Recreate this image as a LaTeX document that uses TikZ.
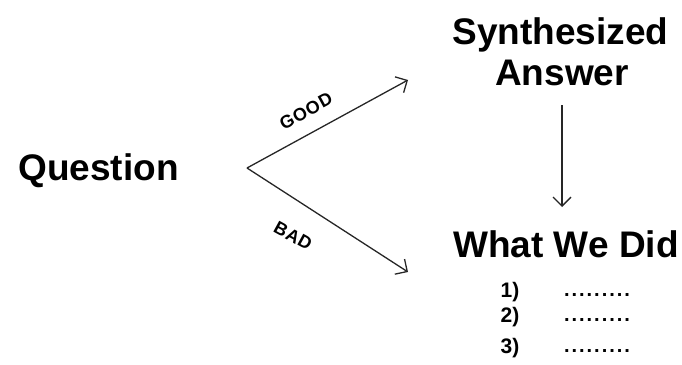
\documentclass[tikz,border=0pt]{standalone}
\usepackage{fontspec}
\setmainfont{Liberation Sans}
\newfontfamily\labfont[LetterSpace=4]{Liberation Sans}
\newfontfamily\dotfont[LetterSpace=10]{Liberation Sans}
\usetikzlibrary{arrows.meta}
\begin{document}
\begin{tikzpicture}[x=1pt,y=-1pt,
  big/.style={font=\fontsize{37}{42}\selectfont\bfseries, inner sep=0pt, anchor=base},
  lab/.style={font=\labfont\fontsize{18}{20}\selectfont\bfseries, inner sep=0pt},
  item/.style={font=\fontsize{21}{24}\selectfont\bfseries, inner sep=0pt, anchor=base},
  dots/.style={font=\dotfont\fontsize{20}{24}\selectfont\bfseries, inner sep=0pt, anchor=base},
  arr/.style={draw=black!85, line width=1.3pt, -{Straight Barb[length=9pt,width=18pt,line width=1.3pt]}}]
\useasboundingbox (0,0) rectangle (682,364);
\node[big] (q) at (98.5,180) {Question};
\node[big] (syn) at (560.5,44) {Synthesized};
\node[big] (ans) at (562,85) {Answer};
\node[big] (wwd) at (566,257) {What We Did};
\node[item] (n1) at (510,297) {1)};
\node[item] (n2) at (510,322) {2)};
\node[item] (n3) at (510,353) {3)};
\node[dots] (d1) at (597,296) {.........};
\node[dots] (d2) at (597,321) {.........};
\node[dots] (d3) at (597,352) {.........};
\coordinate (fork) at (247,168);
\coordinate (gend) at (408,80);
\coordinate (bend) at (408,272);
\coordinate (dtop) at (562,105);
\coordinate (dbot) at (562,207);
\draw[arr] (fork) -- (gend);
\draw[arr] (fork) -- (bend);
\draw[arr] (dtop) -- (dbot);
\node[lab, rotate=28.7] (good) at (306,111) {GOOD};
\node[lab, rotate=-28.7] (bad) at (293,236) {BAD};
\end{tikzpicture}
\end{document}
